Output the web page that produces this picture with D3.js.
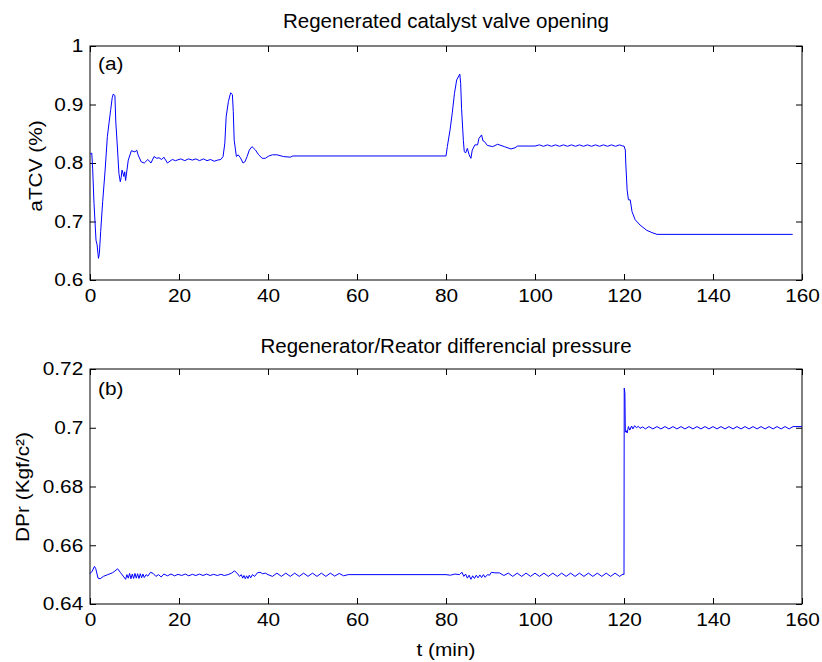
<!DOCTYPE html>
<html>
<head>
<meta charset="utf-8">
<script src="https://cdn.jsdelivr.net/npm/d3@7"></script>
<style>
  body { margin: 0; background: #fff; }
  svg { font-family: 'Liberation Sans', Arial, sans-serif; }
  .axis path, .axis line { stroke: #000; }
  .axis text { font-size: 18.6px; fill: #000; }
</style>
</head>
<body>
<div id="chart"></div>
<script>
// time axis, shared
const tDomain = [0, 160];
const tTicks = [0, 20, 40, 60, 80, 100, 120, 140, 160];

// (a) regenerated catalyst valve opening, [t (min), aTCV]
const tcvPoints = [
  [0, 0.815], [0.4, 0.817], [0.6, 0.79], [0.9, 0.731], [1.35, 0.668], [1.6, 0.66], [1.9, 0.637],
  [2.1, 0.645], [2.4, 0.683], [2.85, 0.734], [3.4, 0.788], [3.9, 0.845], [4.3, 0.87], [4.65, 0.891],
  [5.0, 0.912], [5.24, 0.918], [5.6, 0.915], [5.8, 0.87], [6.1, 0.834], [6.5, 0.782], [6.8, 0.768],
  [7.0, 0.775], [7.2, 0.788], [7.6, 0.777], [7.8, 0.785], [8.0, 0.77], [8.6, 0.805], [9.3, 0.821],
  [10.1, 0.819], [10.5, 0.822], [10.8, 0.814], [11.5, 0.802], [12.2, 0.8], [13, 0.806], [13.7, 0.8],
  [14.4, 0.811], [15.0, 0.808], [15.5, 0.809], [16.1, 0.806], [16.6, 0.81], [17.4, 0.8], [18.5, 0.806],
  [19.2, 0.804], [20.4, 0.807], [21.3, 0.804], [22.1, 0.807], [23, 0.805], [23.8, 0.807], [24.6, 0.804],
  [25.5, 0.807], [26.3, 0.804], [27.1, 0.806], [27.9, 0.803], [28.7, 0.805], [29.4, 0.806], [29.9, 0.811],
  [30.3, 0.834], [30.6, 0.879], [31.1, 0.905], [31.6, 0.92], [32, 0.917], [32.2, 0.888], [32.4, 0.839],
  [32.9, 0.811], [33.3, 0.814], [33.8, 0.809], [34.4, 0.8], [34.8, 0.802], [35.3, 0.811], [35.8, 0.822],
  [36.4, 0.828], [36.8, 0.825], [37.2, 0.822], [37.9, 0.814], [38.7, 0.808], [39.4, 0.808], [40.2, 0.812],
  [41.0, 0.814], [42, 0.814], [43.5, 0.811], [45, 0.81], [45.6, 0.812], [80, 0.812], [80.3, 0.828],
  [80.9, 0.856], [81.4, 0.885], [81.9, 0.919], [82.4, 0.942], [83.1, 0.952], [83.3, 0.936], [83.5, 0.893],
  [83.9, 0.839], [84.1, 0.82], [84.4, 0.817], [84.8, 0.825], [85.2, 0.814], [85.6, 0.808], [85.9, 0.822],
  [86.5, 0.831], [87.1, 0.831], [87.4, 0.842], [88, 0.848], [88.3, 0.838], [88.6, 0.837], [89.3, 0.83],
  [90.5, 0.828], [91.6, 0.832], [93.1, 0.828], [94.6, 0.824], [95.5, 0.826], [96.1, 0.829], [100, 0.829],
  [101, 0.831], [101.9, 0.8285], [102.8, 0.831], [103.7, 0.8285], [104.6, 0.831], [105.5, 0.8285],
  [106.4, 0.831], [107.3, 0.8285], [108.2, 0.831], [109.1, 0.8285], [110, 0.831], [110.9, 0.8285],
  [111.8, 0.831], [112.7, 0.8285], [113.6, 0.831], [114.5, 0.8285], [115.4, 0.831], [116.3, 0.8285],
  [117.2, 0.831], [118.1, 0.8285], [119, 0.831], [119.7, 0.829], [120, 0.829], [120.3, 0.822],
  [120.4, 0.8], [120.7, 0.754], [121, 0.737], [121.4, 0.737], [121.8, 0.717], [122.5, 0.703],
  [123.6, 0.694], [125.1, 0.685], [126.3, 0.681], [127.4, 0.678], [157.9, 0.678]
];
const tcvTicks = [0.6, 0.7, 0.8, 0.9, 1];

// (b) regenerator/reactor differential pressure, [t (min), DPr]
const dprPoints = [
  [0, 0.6503], [0.5, 0.6512], [1.0, 0.6528], [1.3, 0.652], [1.8, 0.6488], [2.3, 0.6486], [3, 0.6494],
  [4, 0.65], [5, 0.6506], [5.6, 0.6512], [6.2, 0.652], [6.8, 0.6508], [7.2, 0.65], [7.6, 0.6492],
  [8.0, 0.6484], [8.3, 0.65], [8.6, 0.6488], [8.9, 0.6504], [9.2, 0.6486], [9.5, 0.6502], [9.8, 0.6487],
  [10.1, 0.6504], [10.4, 0.6488], [10.7, 0.6503], [11, 0.6487], [11.3, 0.6503], [11.6, 0.6489],
  [11.9, 0.6502], [12.2, 0.649], [12.6, 0.65], [13, 0.6495], [13.6, 0.6508], [14.2, 0.6504],
  [14.8, 0.6494], [15.4, 0.65], [16, 0.6492], [16.6, 0.6502], [17.4, 0.6496], [18.2, 0.6502],
  [19, 0.6496], [19.8, 0.6501], [20.6, 0.6497], [21.4, 0.6502], [22.2, 0.6496], [23, 0.6501],
  [23.8, 0.6497], [24.6, 0.6502], [25.4, 0.6497], [26.2, 0.6502], [27, 0.6497], [27.8, 0.6501],
  [28.6, 0.6497], [29.4, 0.6501], [30.2, 0.6497], [31, 0.65], [31.8, 0.6505], [32.5, 0.6513],
  [33.2, 0.6502], [33.6, 0.6494], [34, 0.65], [34.3, 0.6488], [34.6, 0.6497], [34.9, 0.6486],
  [35.2, 0.6496], [35.5, 0.6487], [35.8, 0.6498], [36.1, 0.6489], [36.5, 0.65], [37, 0.6494],
  [37.6, 0.6506], [38.2, 0.6508], [38.8, 0.6503], [39.4, 0.6505], [40, 0.65], [41, 0.6494],
  [42, 0.6505], [43, 0.6494], [44, 0.6505], [45, 0.6494], [46, 0.6505], [47, 0.6494], [48, 0.6505],
  [49, 0.6494], [50, 0.6505], [51, 0.6494], [52, 0.6505], [53, 0.6494], [54, 0.6505], [55, 0.6495],
  [56, 0.6504], [57, 0.6496], [58, 0.65], [80, 0.65], [81, 0.6498], [82, 0.6502], [83, 0.65],
  [83.6, 0.6508], [84, 0.6494], [84.4, 0.6502], [84.8, 0.6488], [85.2, 0.6498], [85.6, 0.6484],
  [86, 0.6496], [86.4, 0.6487], [86.8, 0.6498], [87.2, 0.6489], [87.6, 0.6499], [88, 0.649],
  [88.4, 0.65], [88.8, 0.6491], [89.3, 0.65], [89.8, 0.6498], [90.2, 0.6508], [91, 0.6506],
  [92, 0.6506], [93, 0.6497], [94, 0.6505], [95, 0.6494], [96, 0.6505], [97, 0.6494], [98, 0.6505],
  [99, 0.6494], [100, 0.6505], [101, 0.6494], [102, 0.6505], [103, 0.6494], [104, 0.6505],
  [105, 0.6494], [106, 0.6505], [107, 0.6494], [108, 0.6505], [109, 0.6494], [110, 0.6505],
  [111, 0.6494], [112, 0.6505], [113, 0.6494], [114, 0.6505], [115, 0.6494], [116, 0.6505],
  [117, 0.6494], [118, 0.6505], [119, 0.6494], [119.8, 0.6502], [120, 0.65], [120.05, 0.7135],
  [120.2, 0.712], [120.3, 0.6985], [120.5, 0.699], [120.7, 0.6982], [121, 0.7004], [121.3, 0.6992],
  [121.7, 0.7006], [122, 0.6996], [122.4, 0.7007], [122.8, 0.7], [123.2, 0.7005], [123.6, 0.6998],
  [124.2, 0.7003], [124.8, 0.6996], [125.6, 0.7004], [126.5, 0.6996], [127.4, 0.7004], [128.3, 0.6996],
  [129.2, 0.7004], [130.1, 0.6996], [131, 0.7004], [131.9, 0.6996], [132.8, 0.7004], [133.7, 0.6996],
  [134.6, 0.7004], [135.5, 0.6996], [136.4, 0.7004], [137.3, 0.6996], [138.2, 0.7004], [139.1, 0.6996],
  [140, 0.7004], [140.9, 0.6996], [141.8, 0.7004], [142.7, 0.6996], [143.6, 0.7004], [144.5, 0.6996],
  [145.4, 0.7004], [146.3, 0.6996], [147.2, 0.7004], [148.1, 0.6996], [149, 0.7004], [149.9, 0.6996],
  [150.8, 0.7004], [151.7, 0.6996], [152.6, 0.7004], [153.5, 0.6996], [154.4, 0.7004], [155.3, 0.6996],
  [156.2, 0.7004], [157.1, 0.6996], [158, 0.7004], [160, 0.7004]
];
const dprTicks = [0.64, 0.66, 0.68, 0.7, 0.72];

const width = 822;
const height = 662;
const left = 90;
const right = 802;
// the labels in the original are a bit wide, stretch them sideways
const stretch = 'scale(1.12,1)';

const svg = d3.select('#chart')
  .append('svg')
  .attr('width', width)
  .attr('height', height);

svg.append('rect')
  .attr('width', width)
  .attr('height', height)
  .attr('fill', '#fff');

const x = d3.scaleLinear().domain(tDomain).range([left, right]);

function drawPanel(opts) {
  const y = d3.scaleLinear().domain(opts.domain).range([opts.bottom, opts.top]);
  const g = svg.append('g');
  const tick = 6;
  const fmt = (d) => String(+d.toFixed(2));

  g.append('g')
    .attr('class', 'axis')
    .attr('transform', `translate(0,${opts.bottom})`)
    .call(d3.axisBottom(x).tickValues(tTicks).tickSizeInner(-tick).tickSizeOuter(0).tickPadding(9))
    .call((s) => s.select('.domain').remove())
    .call((s) => s.selectAll('text').attr('transform', stretch));

  g.append('g')
    .attr('class', 'axis')
    .attr('transform', `translate(0,${opts.top})`)
    .call(d3.axisTop(x).tickValues(tTicks).tickSizeInner(-tick).tickSizeOuter(0).tickFormat(''))
    .call((s) => s.select('.domain').remove());

  g.append('g')
    .attr('class', 'axis')
    .attr('transform', `translate(${left},0)`)
    .call(d3.axisLeft(y).tickValues(opts.ticks).tickSizeInner(-tick).tickSizeOuter(0).tickPadding(6).tickFormat(fmt))
    .call((s) => s.select('.domain').remove())
    .call((s) => s.selectAll('text').attr('transform', stretch));

  g.append('g')
    .attr('class', 'axis')
    .attr('transform', `translate(${right},0)`)
    .call(d3.axisRight(y).tickValues(opts.ticks).tickSizeInner(-tick).tickSizeOuter(0).tickFormat(''))
    .call((s) => s.select('.domain').remove());

  g.append('rect')
    .attr('x', left)
    .attr('y', opts.top)
    .attr('width', right - left)
    .attr('height', opts.bottom - opts.top)
    .attr('fill', 'none')
    .attr('stroke', '#000')
    .attr('stroke-width', 1);

  g.append('path')
    .datum(opts.points)
    .attr('fill', 'none')
    .attr('stroke', '#0000ff')
    .attr('stroke-width', 1)
    .attr('d', d3.line().x((d) => x(d[0])).y((d) => y(d[1])));

  g.append('text')
    .attr('x', (left + right) / 2)
    .attr('y', opts.titleY)
    .attr('text-anchor', 'middle')
    .attr('font-size', 20.5)
    .text(opts.title);

  g.append('text')
    .attr('transform', `translate(${left + 8},${opts.tagY}) ${stretch}`)
    .attr('font-size', 18.6)
    .text(opts.tag);

  g.append('text')
    .attr('transform', `translate(${opts.labelX},${opts.labelY}) rotate(-90) ${stretch}`)
    .attr('text-anchor', 'middle')
    .attr('font-size', 18.6)
    .text(opts.label);
}

drawPanel({
  top: 46,
  bottom: 280,
  domain: [0.6, 1],
  ticks: tcvTicks,
  points: tcvPoints,
  title: 'Regenerated catalyst valve opening',
  titleY: 28,
  tag: '(a)',
  tagY: 70,
  label: 'aTCV (%)',
  labelX: 42,
  labelY: 166,
});

drawPanel({
  top: 369,
  bottom: 604,
  domain: [0.64, 0.72],
  ticks: dprTicks,
  points: dprPoints,
  title: 'Regenerator/Reator differencial pressure',
  titleY: 353,
  tag: '(b)',
  tagY: 395,
  label: 'DPr (Kgf/c²)',
  labelX: 28.5,
  labelY: 487,
});

svg.append('text')
  .attr('transform', `translate(${(left + right) / 2},656) ${stretch}`)
  .attr('text-anchor', 'middle')
  .attr('font-size', 18.6)
  .text('t (min)');
</script>
</body>
</html>
